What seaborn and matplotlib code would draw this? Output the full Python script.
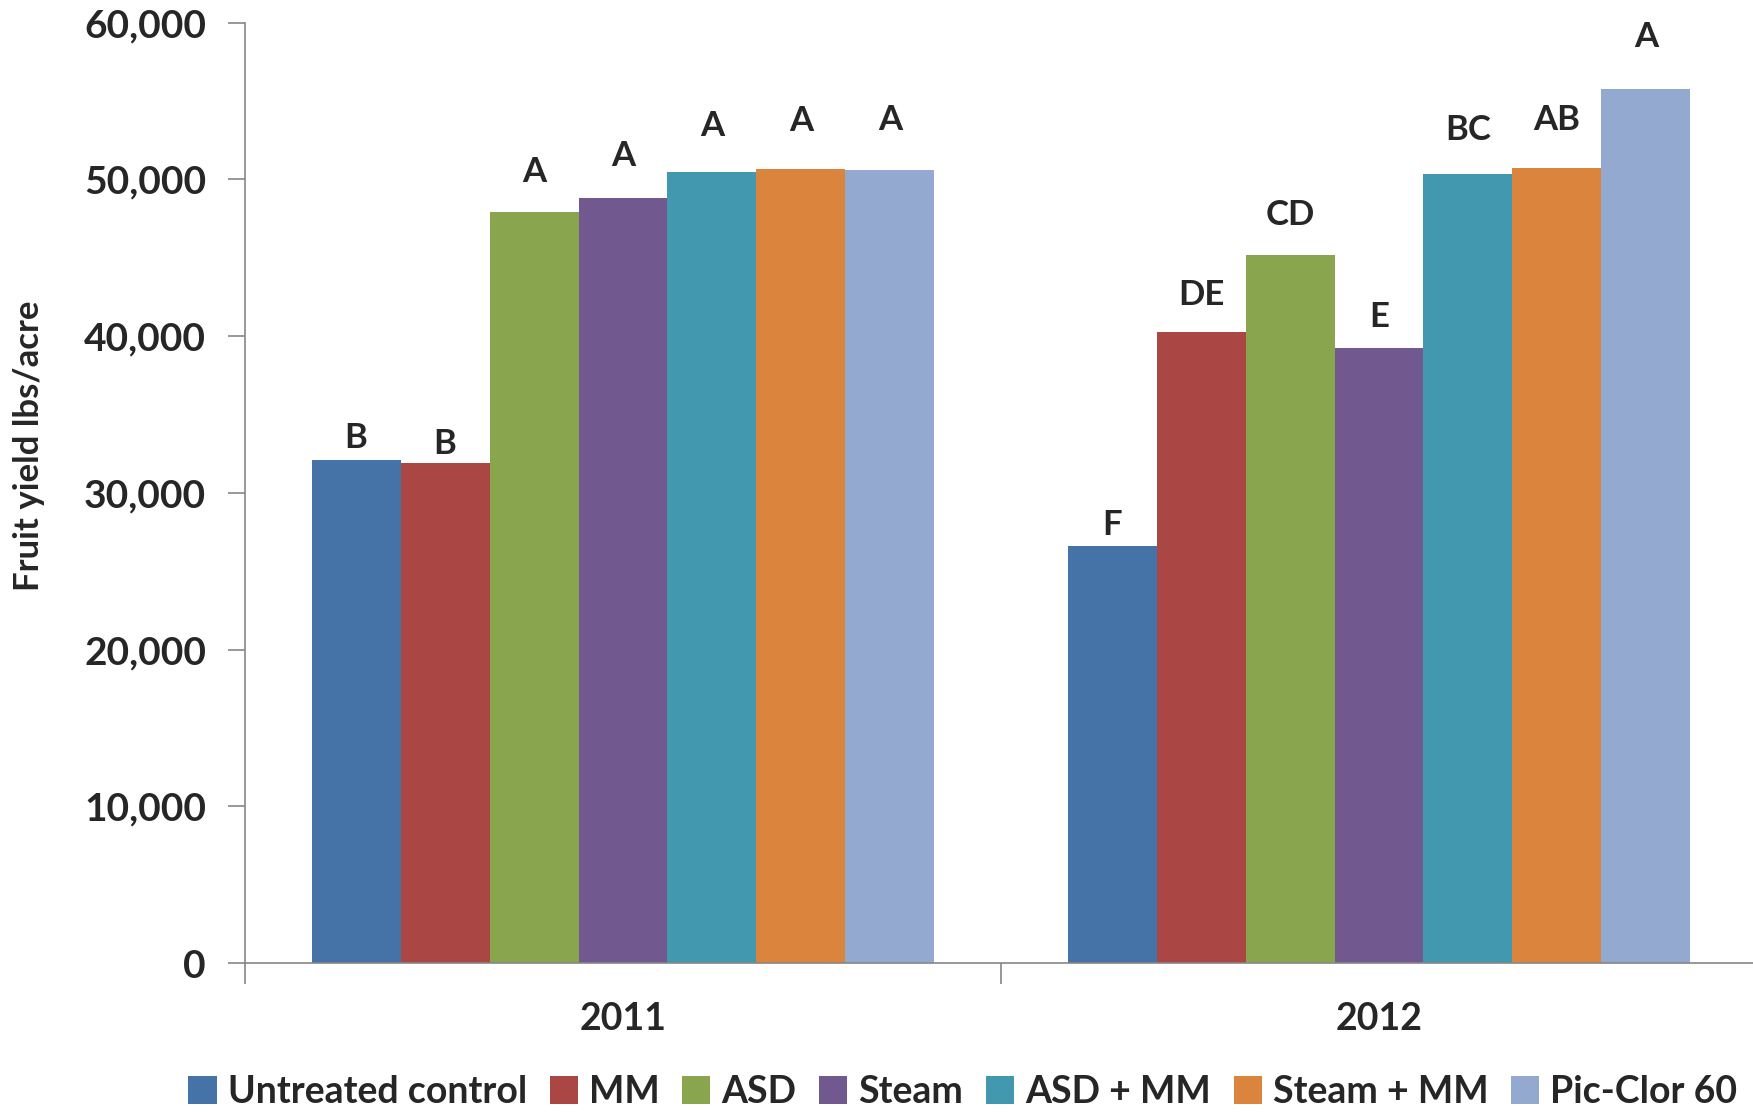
import matplotlib
matplotlib.use("Agg")
import matplotlib.pyplot as plt
import seaborn as sns
import pandas as pd

# Fruit yield by soil treatment and season
years = ["2011", "2012"]
treatments = ["Untreated control", "MM", "ASD", "Steam", "ASD + MM",
              "Steam + MM", "Pic-Clor 60"]
yield_2011 = [32100, 31900, 47900, 48800, 50500, 50650, 50600]
yield_2012 = [26600, 40250, 45200, 39250, 50350, 50700, 55750]
letters_2011 = ["B", "B", "A", "A", "A", "A", "A"]
letters_2012 = ["F", "DE", "CD", "E", "BC", "AB", "A"]

palette = ["#4572A7", "#AA4643", "#89A54E", "#71588F", "#4198AF",
           "#DB843D", "#93A9CF"]
# vertical gap (pixels) between bar top and its significance letter
letter_gap_2011 = [22, 19, 40, 42, 46, 48, 50]
letter_gap_2012 = [21, 37, 40, 31, 44, 48, 52]

df = pd.DataFrame({
    "Year": [years[0]] * len(treatments) + [years[1]] * len(treatments),
    "Treatment": treatments * 2,
    "Yield": yield_2011 + yield_2012,
})

sns.set_style("white")
plt.rcParams["font.family"] = ["Lato", "DejaVu Sans"]
plt.rcParams["font.weight"] = "bold"

W, H = 1753, 1112
fig = plt.figure(figsize=(W / 100, H / 100), dpi=100)
ax = fig.add_axes([245 / W, (H - 963) / H, (1757 - 245) / W, (963 - 22.7) / H])

sns.barplot(data=df, x="Year", y="Yield", hue="Treatment", order=years,
            hue_order=treatments, palette=palette, width=0.824,
            saturation=1, linewidth=0, errorbar=None, ax=ax)

ax.set_xlim(-0.5, 1.5)
ax.set_ylim(0, 60000)
ax.set_yticks(range(0, 60001, 10000))
ax.set_yticklabels([f"{v:,}" for v in range(0, 60001, 10000)],
                   fontsize=28, fontweight="bold")
ax.set_xticks([-0.5, 0.5, 1.5])
ax.set_xticklabels([])
ax.set_xticks([0, 1], minor=True)
ax.set_xticklabels(years, minor=True, fontsize=27, fontweight="bold")
ax.tick_params(axis="x", which="major", length=15, width=1.2,
               color="#868686", direction="out", bottom=True)
ax.tick_params(axis="x", which="minor", length=0, pad=28)
ax.tick_params(axis="y", length=12, width=1.2, color="#868686",
               direction="out", left=True, pad=16)
ax.set_xlabel("")
ax.set_ylabel("Fruit yield lbs/acre", fontsize=25, fontweight="bold")
ax.yaxis.set_label_coords(-200 / (1757 - 245), 0.55)

for side in ["top", "right"]:
    ax.spines[side].set_visible(False)
for side in ["left", "bottom"]:
    ax.spines[side].set_color("#868686")
    ax.spines[side].set_linewidth(1.2)

# significance letters above each bar
for cont, letters, gaps in zip(ax.containers, zip(letters_2011, letters_2012),
                               zip(letter_gap_2011, letter_gap_2012)):
    for bar, letter, gap in zip(cont, letters, gaps):
        ax.annotate(letter, (bar.get_x() + bar.get_width() / 2, bar.get_height()),
                    xytext=(0, gap), textcoords="offset pixels",
                    ha="center", va="center", fontsize=25, fontweight="bold")

handles, labels = ax.get_legend_handles_labels()
ax.legend(handles, labels, loc="center", bbox_to_anchor=(963 / W, (H - 1092) / H),
          bbox_transform=fig.transFigure, ncol=7, frameon=False,
          fontsize=27, handlelength=0.75, handleheight=0.75,
          handletextpad=0.3, columnspacing=0.6, borderaxespad=0)
for t in ax.get_legend().get_texts():
    t.set_fontweight("bold")

fig.savefig("out.png", dpi=100)
